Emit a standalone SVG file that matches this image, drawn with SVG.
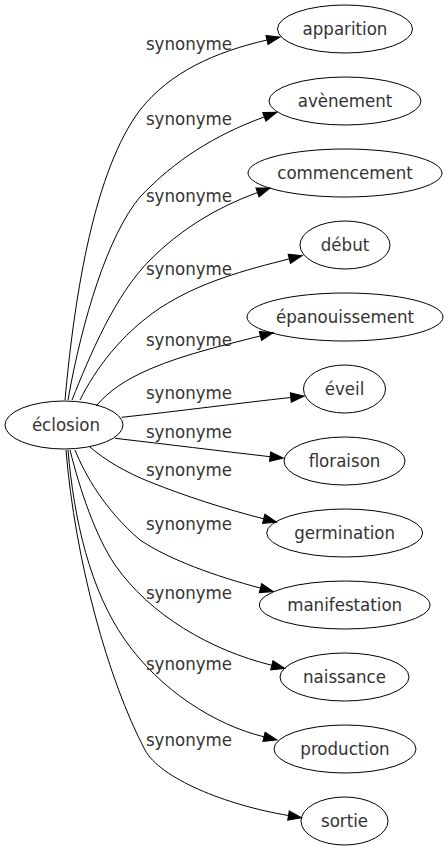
<svg xmlns="http://www.w3.org/2000/svg" width="448" height="851" viewBox="0 0 448 851">
<style>
  .node ellipse { fill: none; stroke: #000; stroke-width: 1; }
  .node text, .lbl { font-family: "DejaVu Sans Condensed", "DejaVu Sans", sans-serif; font-size: 18.5px; fill: #333; text-anchor: middle; }
  .edges path { fill: none; stroke: #000; stroke-width: 1; marker-end: url(#arrow); }
</style>
<defs>
  <marker id="arrow" markerUnits="userSpaceOnUse" markerWidth="16" markerHeight="12" refX="0" refY="0" viewBox="0 -6 16 12" orient="auto" overflow="visible">
    <path d="M0,-4.67 L13.3,0 L0,4.67 z" fill="#000" stroke="#000" stroke-width="1"/>
  </marker>
</defs>
<rect width="448" height="851" fill="#fff"/>
<g id="edges" class="edges">
  <path d="M65,400 C75,290 95,170 140,110 C170,72 215,52 267,40"/>
  <path d="M68,400 C82,320 108,235 140,197 C175,160 215,135 264.3,116.9"/>
  <path d="M72,400 C90,355 115,295 150,260 C180,230 215,208 257.5,192.5"/>
  <path d="M80,400 C95,370 120,335 160,308 C200,282 245,270 289.3,258.9"/>
  <path d="M96,406 C110,390 125,380 150,369 C185,354 225,345 260.4,335.9"/>
  <path d="M121.7,417.3 C180,411 240,403 290.8,397.5"/>
  <path d="M115,438.3 C165,444 220,451 270.1,456.7"/>
  <path d="M90,447 C105,460 125,472 150,482 C185,496 225,509 263.7,518.8"/>
  <path d="M75,450 C85,475 105,510 140,540 C170,560 215,576 260.5,588.1"/>
  <path d="M70,450 C80,490 95,535 115,565 C150,615 210,650 271.8,665.3"/>
  <path d="M68,450 C74,520 90,590 125,640 C160,690 215,725 264,736.8"/>
  <path d="M66,450 C75,560 108,680 145,750 C160,778 225,805 288.5,815.5"/>
  <text class="lbl" x="189" y="50">synonyme</text>
  <text class="lbl" x="189" y="125">synonyme</text>
  <text class="lbl" x="189" y="202">synonyme</text>
  <text class="lbl" x="189" y="275">synonyme</text>
  <text class="lbl" x="189" y="346">synonyme</text>
  <text class="lbl" x="189" y="399">synonyme</text>
  <text class="lbl" x="189" y="438">synonyme</text>
  <text class="lbl" x="189" y="476">synonyme</text>
  <text class="lbl" x="189" y="530">synonyme</text>
  <text class="lbl" x="189" y="599">synonyme</text>
  <text class="lbl" x="189" y="670">synonyme</text>
  <text class="lbl" x="189" y="746">synonyme</text>
</g>
<g id="n-eclosion" class="node"><ellipse cx="64" cy="425" rx="59" ry="24"/><text x="66" y="431">éclosion</text></g>
<g id="n-apparition" class="node"><ellipse cx="345" cy="29" rx="67.5" ry="24"/><text x="345" y="35">apparition</text></g>
<g id="n-avenement" class="node"><ellipse cx="345" cy="101" rx="76" ry="24"/><text x="345" y="107">avènement</text></g>
<g id="n-commencement" class="node"><ellipse cx="345" cy="173" rx="97" ry="24"/><text x="345" y="179">commencement</text></g>
<g id="n-debut" class="node"><ellipse cx="345" cy="245" rx="45" ry="24"/><text x="345" y="251">début</text></g>
<g id="n-epanouissement" class="node"><ellipse cx="345" cy="317" rx="98" ry="24"/><text x="345" y="323">épanouissement</text></g>
<g id="n-eveil" class="node"><ellipse cx="344.5" cy="389" rx="41" ry="24"/><text x="344.5" y="395">éveil</text></g>
<g id="n-floraison" class="node"><ellipse cx="344.5" cy="461" rx="60.5" ry="24"/><text x="344.5" y="467">floraison</text></g>
<g id="n-germination" class="node"><ellipse cx="344.7" cy="533" rx="78" ry="24"/><text x="344.7" y="539">germination</text></g>
<g id="n-manifestation" class="node"><ellipse cx="344.7" cy="605" rx="85.3" ry="24"/><text x="344.7" y="611">manifestation</text></g>
<g id="n-naissance" class="node"><ellipse cx="344.5" cy="677" rx="64.5" ry="24"/><text x="344.5" y="683">naissance</text></g>
<g id="n-production" class="node"><ellipse cx="345" cy="749" rx="71" ry="24"/><text x="345" y="755">production</text></g>
<g id="n-sortie" class="node"><ellipse cx="344.5" cy="821" rx="43.5" ry="24"/><text x="344.5" y="827">sortie</text></g>
</svg>
